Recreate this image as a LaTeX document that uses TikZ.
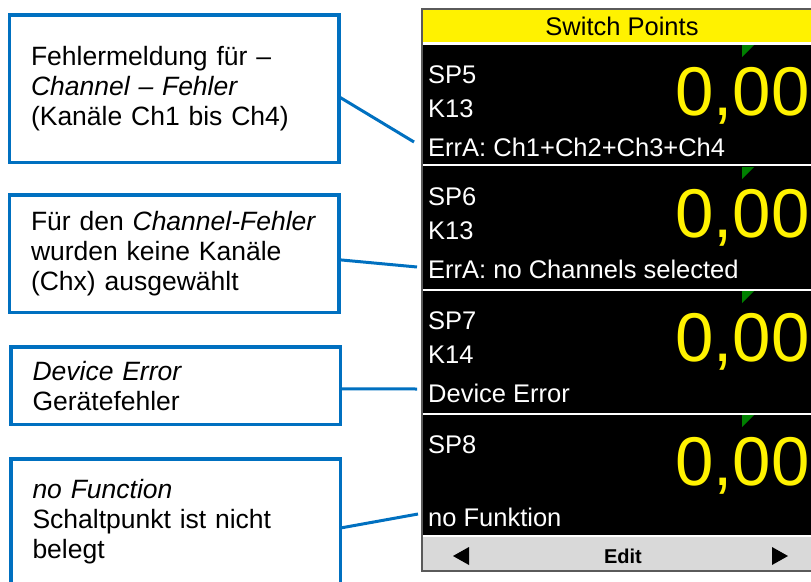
\documentclass[tikz,border=0pt]{standalone}
\usepackage{fontspec}
\setmainfont{Liberation Sans}
\usetikzlibrary{calc}
\definecolor{callblue}{RGB}{0,112,192}
\definecolor{barGrey}{RGB}{217,217,217}
\definecolor{markgreen}{RGB}{0,128,0}
\definecolor{frameGrey}{RGB}{90,90,90}
\begin{document}
\begin{tikzpicture}[x=1pt,y=-1pt,
  callout/.style={draw=callblue, line width=3.5pt, rectangle, align=left,
    text width=286.5pt, inner xsep=21.5pt, inner ysep=0pt, outer sep=0pt,
    font=\fontsize{26.5}{30}\selectfont, anchor=north west},
  link/.style={draw=callblue, line width=3pt},
  lbl/.style={anchor=base west, inner sep=0pt, text=white, font=\fontsize{25.5}{30}\selectfont},
  bignum/.style={anchor=base west, inner sep=0pt, text=yellow, font=\fontsize{69}{80}\selectfont},
  sepline/.style={draw=white, line width=2.2pt},
  flag/.style={fill=markgreen},
  arrowtri/.style={fill=black}
]
\useasboundingbox (0,0) rectangle (811,581);

% ---------- display ----------
\fill[black] (422,9) rectangle (815,571);
\fill[yellow] (423,10) rectangle (812,42);
\fill[barGrey] (423,537) rectangle (812,570);
\draw[frameGrey, line width=1.5pt] (422,9) rectangle (815,571);
\node[anchor=base, inner sep=0pt, font=\fontsize{25.5}{30}\selectfont] (title) at (622,35) {Switch Points};

% separators between header, switch point panels and button bar
\foreach \y in {43.5,165,290,414,536}
  \draw[sepline] (423,\y) -- (812,\y);

% switch point panels: top, point, channel, message
\foreach \t/\p/\k/\m [count=\i] in {
    44/SP5/K13/{ErrA: Ch1+Ch2+Ch3+Ch4},
    166/SP6/K13/{ErrA: no Channels selected},
    290/SP7/K14/{Device Error},
    414/SP8//{no Funktion}}{
  \node[lbl] (sp\i) at (428,\t+39) {\p};
  \node[lbl] (k\i) at (428,\t+73) {\k};
  \node[lbl] (msg\i) at (428,\t+112) {\m};
  \node[bignum] (val\i) at (675,\t+71) {0,00};
  \fill[flag] (742,\t+1) -- (754,\t+1) -- (742,\t+13) -- cycle;
}

% button bar
\node[anchor=base, inner sep=0pt, font=\fontsize{20}{24}\selectfont\bfseries] (edit) at (623,563) {Edit};
\fill[arrowtri] (453,556) -- (469,547) -- (469,565) -- cycle;
\fill[arrowtri] (788,556) -- (772,547) -- (772,565) -- cycle;

% ---------- callouts ----------
\node[callout, minimum height=147.5pt] (b1) at (9.5,15)
  {Fehlermeldung für –\\ \textit{Channel – Fehler}\\ (Kanäle Ch1 bis Ch4)};
\node[callout, minimum height=117.5pt] (b2) at (9.5,195)
  {Für den \textit{Channel-Fehler}\\ wurden keine Kanäle\\ (Chx) ausgewählt};
\node[callout, minimum height=77.5pt] (b3) at (11,347)
  {\textit{Device Error}\\ Gerätefehler};
\node[callout, minimum height=126pt] (b4) at (11,459)
  {\textit{no Function}\\ Schaltpunkt ist nicht\\ belegt};

\coordinate (e1) at (414,142);
\coordinate (e2) at (417,267);
\coordinate (e3) at (417,389);
\coordinate (e4) at (418,514);
\draw[link] ($(b1.east)+(0,8)$) -- (e1);
\draw[link] ($(b2.east)+(0,6)$) -- (e2);
\draw[link] ($(b3.east)+(0,3)$) -- (e3);
\draw[link] ($(b4.east)+(0,6)$) -- (e4);
\end{tikzpicture}
\end{document}
